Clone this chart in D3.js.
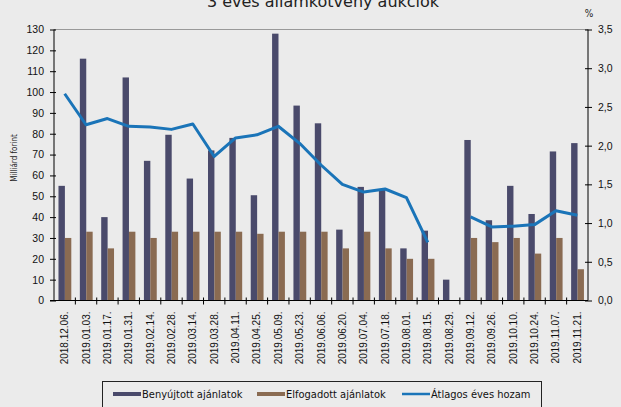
<!DOCTYPE html>
<html>
<head>
<meta charset="utf-8">
<script src="https://cdn.jsdelivr.net/npm/d3@7"></script>
<style>
  html, body { margin: 0; padding: 0; background: #ebebeb; }
  svg { display: block; font-family: "DejaVu Sans Condensed", "DejaVu Sans", sans-serif; }
</style>
</head>
<body>
<svg id="chart" width="621" height="407"></svg>
<script>
// auction dates
var dates = ["2018.12.06.", "2019.01.03.", "2019.01.17.", "2019.01.31.", "2019.02.14.",
  "2019.02.28.", "2019.03.14.", "2019.03.28.", "2019.04.11.", "2019.04.25.",
  "2019.05.09.", "2019.05.23.", "2019.06.06.", "2019.06.20.", "2019.07.04.",
  "2019.07.18.", "2019.08.01.", "2019.08.15.", "2019.08.29.", "2019.09.12.",
  "2019.09.26.", "2019.10.10.", "2019.10.24.", "2019.11.07.", "2019.11.21."];

// Benyújtott ajánlatok (Mrd Ft)
var submitted = [55, 116, 40, 107, 67, 79.5, 58.5, 72, 78, 50.5,
  128, 93.5, 85, 34, 54.5, 53.5, 25, 33.5, 10, 77,
  38.5, 55, 41.5, 71.5, 75.5];

// Elfogadott ajánlatok (Mrd Ft)
var accepted = [30, 33, 25, 33, 30, 33, 33, 33, 33, 32,
  33, 33, 33, 25, 33, 25, 20, 20, null, 30,
  28, 30, 22.5, 30, 15];

// Átlagos éves hozam (%)
var avgYield = [2.67, 2.27, 2.35, 2.25, 2.24, 2.21, 2.28, 1.86, 2.10, 2.14,
  2.25, 2.03, 1.75, 1.50, 1.40, 1.44, 1.33, 0.75, null, 1.08,
  0.95, 0.96, 0.98, 1.16, 1.10];

var leftTicks = d3.range(0, 131, 10);
var rightTicks = [0, 0.5, 1, 1.5, 2, 2.5, 3, 3.5];
var seriesNames = ["Benyújtott ajánlatok", "Elfogadott ajánlatok", "Átlagos éves hozam"];

var colDark = "#4a4a6b";
var colBrown = "#8a6b52";
var colBlue = "#1a74b8";

var plotL = 54, plotR = 588, plotT = 29.5, plotB = 300.5;

var svg = d3.select("#chart");

var x = d3.scaleBand().domain(dates).range([plotL, plotR]).padding(0);
var bw = x.bandwidth();
var xSub = d3.scaleBand().domain(["s", "a"]).range([bw * 0.21, bw * 0.81]).padding(0);
var y = d3.scaleLinear().domain([0, 130]).range([plotB, plotT]);
var y2 = d3.scaleLinear().domain([0, 3.5]).range([plotB, plotT]);

// title (cut off at top in the original)
svg.append("text")
  .attr("x", 323).attr("y", 7)
  .attr("text-anchor", "middle")
  .style("font-family", "'DejaVu Sans', sans-serif")
  .style("font-size", "16px").style("fill", "#222")
  .text("3 éves államkötvény aukciók");

// top frame line
svg.append("line")
  .attr("x1", plotL).attr("x2", plotR)
  .attr("y1", plotT).attr("y2", plotT)
  .attr("stroke", "#999").attr("stroke-width", 1);

// bars
var groups = svg.append("g").selectAll("g")
  .data(dates).enter().append("g")
  .attr("transform", function(d) { return "translate(" + x(d) + ",0)"; });

groups.append("rect")
  .attr("x", xSub("s"))
  .attr("width", xSub.bandwidth())
  .attr("y", function(d, i) { return y(submitted[i]); })
  .attr("height", function(d, i) { return y(0) - y(submitted[i]); })
  .attr("fill", colDark);

groups.filter(function(d, i) { return accepted[i] != null; })
  .append("rect")
  .attr("x", xSub("a"))
  .attr("width", xSub.bandwidth())
  .attr("y", function(d) { return y(accepted[dates.indexOf(d)]); })
  .attr("height", function(d) { return y(0) - y(accepted[dates.indexOf(d)]); })
  .attr("fill", colBrown);

// yield line
var line = d3.line()
  .defined(function(d) { return d != null; })
  .x(function(d, i) { return x(dates[i]) + bw / 2; })
  .y(function(d) { return y2(d); });

svg.append("path")
  .datum(avgYield)
  .attr("d", line)
  .attr("fill", "none")
  .attr("stroke", colBlue)
  .attr("stroke-width", 3)
  .attr("stroke-linejoin", "round");

// left axis
var gl = svg.append("g")
  .attr("transform", "translate(" + plotL + ",0)")
  .call(d3.axisLeft(y).tickValues(leftTicks).tickSize(4).tickPadding(6));
gl.selectAll(".tick line").attr("x1", 2);
gl.selectAll("text").style("font-size", "10.5px").style("fill", "#111");
gl.select(".domain").attr("d", "M0," + plotT + "V" + plotB).attr("stroke", "#000");

// right axis
var gr = svg.append("g")
  .attr("transform", "translate(" + plotR + ",0)")
  .call(d3.axisRight(y2).tickValues(rightTicks).tickSize(4).tickPadding(6)
    .tickFormat(function(d) { return d3.format(".1f")(d).replace(".", ","); }));
gr.selectAll(".tick line").attr("x1", -3);
gr.selectAll("text").style("font-size", "10.5px").style("fill", "#111");
gr.select(".domain").attr("d", "M0," + plotT + "V" + plotB).attr("stroke", "#000");

// x axis
var gx = svg.append("g")
  .attr("transform", "translate(0," + plotB + ")")
  .call(d3.axisBottom(x).tickSize(0).tickPadding(0));
gx.select(".domain").attr("d", "M" + (plotL - 4) + ",0H" + plotR).attr("stroke", "#000");
gx.selectAll(".tick text")
  .attr("transform", "rotate(-90)")
  .attr("x", -11).attr("y", 0).attr("dy", "0.35em")
  .attr("text-anchor", "end")
  .style("font-size", "10px").style("fill", "#111");

// category boundary ticks
gx.selectAll(".sep")
  .data(dates.slice(1))
  .enter().append("line")
  .attr("class", "sep")
  .attr("x1", function(d) { return x(d); })
  .attr("x2", function(d) { return x(d); })
  .attr("y1", -3).attr("y2", 4)
  .attr("stroke", "#000");

// axis labels
svg.append("text")
  .attr("transform", "translate(17,158) rotate(-90)")
  .attr("text-anchor", "middle")
  .style("font-size", "8px").style("fill", "#222")
  .text("Milliárd forint");

svg.append("text")
  .attr("x", 589).attr("y", 17)
  .attr("text-anchor", "middle")
  .style("font-size", "10px").style("fill", "#222")
  .text("%");

// legend
var lg = svg.append("g");
lg.append("rect")
  .attr("x", 102.5).attr("y", 381.5)
  .attr("width", 439).attr("height", 40)
  .attr("fill", "none").attr("stroke", "#222");

var legendX = [113, 257, 402];
seriesNames.forEach(function(name, i) {
  if (i < 2) {
    lg.append("rect")
      .attr("x", legendX[i]).attr("y", 392)
      .attr("width", 28).attr("height", 4)
      .attr("fill", i === 0 ? colDark : colBrown);
  } else {
    lg.append("line")
      .attr("x1", legendX[i]).attr("x2", legendX[i] + 28)
      .attr("y1", 394).attr("y2", 394)
      .attr("stroke", colBlue).attr("stroke-width", 2.5);
  }
  lg.append("text")
    .attr("x", legendX[i] + 29).attr("y", 398)
    .style("font-size", "11px").style("fill", "#111")
    .text(name);
});
</script>
</body>
</html>
